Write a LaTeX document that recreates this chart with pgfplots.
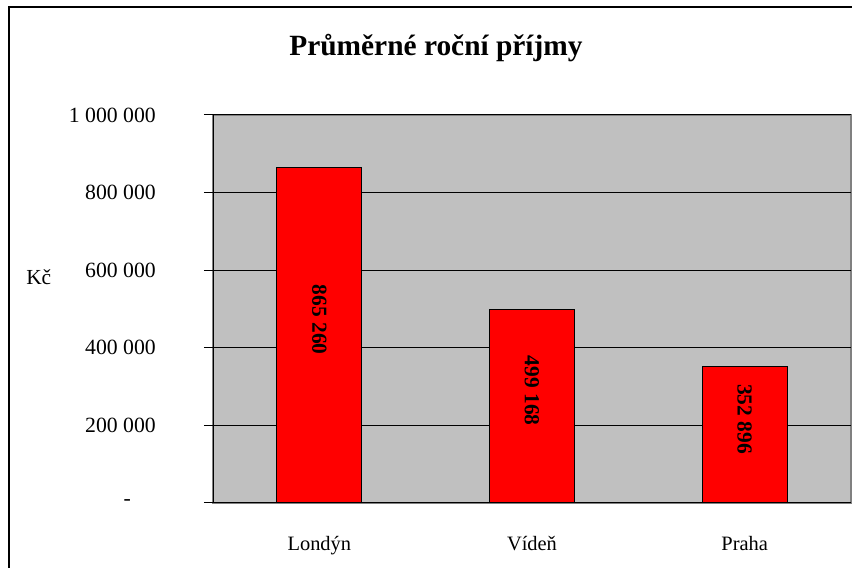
\documentclass[border=0pt]{standalone}
\usepackage{fontspec}
\setmainfont{Liberation Serif}
\usepackage{pgfplots}
\pgfplotsset{compat=1.18}
\definecolor{plotgray}{HTML}{C0C0C0}
\definecolor{edgegray}{HTML}{808080}
\begin{document}
\begin{tikzpicture}
\useasboundingbox (0,0) rectangle (852bp,568bp);
\draw[line width=2bp, black] (8.5bp,-5bp) -- (8.5bp,561bp) -- (860bp,561bp);
\begin{axis}[
  at={(213bp,65bp)}, anchor=south west,
  scale only axis, width=638bp, height=388bp,
  xmin=-0.5, xmax=2.5, ymin=0, ymax=1000000,
  enlargelimits=false,
  axis x line*=bottom, axis y line*=left,
  axis line style={-, black, line width=1bp},
  axis background/.style={fill=plotgray, draw=edgegray, line width=1.2bp},
  ybar, bar width=0.4, bar shift=0pt,
  xtick={0,1,2}, xticklabels={Londýn, Vídeň, Praha},
  xtick style={draw=none},
  minor xtick={-0.5,0.5,1.5,2.5},
  minor x tick style={black, line width=1bp},
  ytick={0,200000,400000,600000,800000,1000000},
  yticklabels={{-\hspace*{25bp}}, 200 000, 400 000, 600 000, 800 000, 1 000 000},
  scaled y ticks=false,
  tick align=outside,
  major tick length=9bp, minor tick length=9bp,
  ytick style={black, line width=1bp},
  ymajorgrids, grid style={black, line width=1bp},
  xticklabel style={font=\fontsize{20.5}{24}\selectfont, anchor=base, inner sep=0pt, yshift=-38bp},
  yticklabel style={font=\fontsize{21.8}{26}\selectfont, anchor=east, inner sep=0pt, xshift=-48bp},
  title={Průměrné roční příjmy},
  title style={at={(axis description cs:0.3495,1)}, anchor=base, yshift=54bp, inner sep=0pt, font=\bfseries\fontsize{29.5}{34}\selectfont},
  ylabel={Kč},
  ylabel style={rotate=-90, at={(axis description cs:-0.293,0.5619)}, anchor=base west, inner sep=0pt, font=\fontsize{21.5}{26}\selectfont},
  nodes near coords,
  point meta=explicit symbolic,
  visualization depends on={y \as \rawy},
  every node near coord/.append style={font=\bfseries\fontsize{21.5}{26}\selectfont, anchor=center, inner sep=0pt, shift={(axis direction cs:0,-\rawy/2)}, yshift=15.5bp, rotate=-90},
]
\addplot[fill=red, draw=black, line width=1bp] coordinates {
  (0,865260) [865 260]
  (1,499168) [499 168]
  (2,352896) [352 896]
};
\end{axis}
\end{tikzpicture}
\end{document}
